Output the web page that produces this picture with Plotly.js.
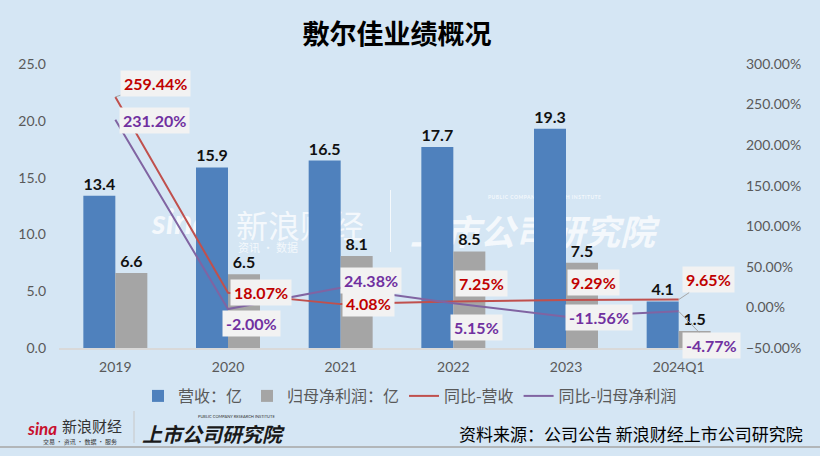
<!DOCTYPE html>
<html>
<head>
<meta charset="utf-8">
<script src="https://cdn.plot.ly/plotly-3.0.1.min.js"></script>
<style>
  html, body { margin: 0; padding: 0; background: #d5e6f4; }
  #wrap { position: relative; width: 820px; height: 456px; }
  #chart { position: absolute; left: 0; top: 0; width: 820px; height: 456px; z-index: 1; }
  #wm { position: absolute; left: 0; top: 0; width: 820px; height: 456px; z-index: 0; color: rgba(255,255,255,0.75); }
  #wm div { position: absolute; white-space: nowrap; line-height: 1; }
</style>
</head>
<body>
<div id="wrap">
  <div id="wm">
    <div style="left:152px; top:200px; font: italic bold 34px Lato, sans-serif;">sina</div>
    <div style="left:236px; top:201px; font: 32px 'Noto Sans CJK SC', sans-serif;">新浪财经</div>
    <div style="left:238px; top:239px; font: 11px 'Noto Sans CJK SC', sans-serif;">资讯 · 数据</div>
    <div style="left:390px; top:190px; width:1px; height:62px; background: rgba(255,255,255,0.75);"></div>
    <div style="left:488px; top:194px; font: bold 5px Lato, sans-serif; letter-spacing: 0.5px;">PUBLIC COMPANY RESEARCH INSTITUTE</div>
    <div style="left:410px; top:204px; font: italic bold 35px 'Noto Sans CJK SC', sans-serif;">上市公司研究院</div>
  </div>
  <div id="chart"></div>
</div>
<script>
// ---------- data ----------
const categories = ['2019', '2020', '2021', '2022', '2023', '2024Q1'];
const revenue = [13.4, 15.9, 16.5, 17.7, 19.3, 4.1];          // 营收：亿
const netProfit = [6.6, 6.5, 8.1, 8.5, 7.5, 1.5];             // 归母净利润：亿
const revenueYoY = [259.44, 18.07, 4.08, 7.25, 9.29, 9.65];   // 同比-营收 (%)
const profitYoY = [231.20, -2.00, 24.38, 5.15, -11.56, -4.77]; // 同比-归母净利润 (%)
const leftTicks = [0, 5, 10, 15, 20, 25];
const rightTicks = [-50, 0, 50, 100, 150, 200, 250, 300];

// ---------- styling ----------
const NUM_FONT = "Lato, 'Noto Sans CJK SC', sans-serif";
const CJK_FONT = "'Noto Sans CJK SC', 'Noto Sans', sans-serif";
const RED_TXT = '#c00000', PURPLE_TXT = '#7030a0';
// label offsets in pixels [dx, dy(down positive)], and whether a leader line is drawn
const revLabelOff = [[40, -13, true], [33, 0, false], [28, -1, false], [28, -18, false], [27, -17, false], [30, -20, true]];
const proLabelOff = [[39, 1, false], [23, 14, false], [30, -7, false], [23, 24, false], [33, 1, false], [33, 34, true]];

const M = { l: 59, r: 85, t: 64, b: 108 };
const PW = 820 - M.l - M.r, PH = 456 - M.t - M.b;
const px = x => (x - M.l) / PW;
const py = y => (456 - M.b - y) / PH;

const traces = [
  {
    type: 'bar', name: '营收：亿', x: categories, y: revenue, yaxis: 'y',
    marker: { color: '#4f81bd' },
    texttemplate: '%{y:.1f}', textposition: 'outside', cliponaxis: false,
    textfont: { family: NUM_FONT, size: 16, color: '#111111', weight: 'bold' },
    hoverinfo: 'skip'
  },
  {
    type: 'bar', name: '归母净利润：亿', x: categories, y: netProfit, yaxis: 'y',
    marker: { color: '#a5a5a5' },
    texttemplate: '%{y:.1f}', textposition: 'outside', cliponaxis: false,
    textfont: { family: NUM_FONT, size: 16, color: '#111111', weight: 'bold' },
    hoverinfo: 'skip'
  },
  {
    type: 'scatter', mode: 'lines', name: '同比-营收', x: categories,
    y: revenueYoY.map(v => v / 100), yaxis: 'y2',
    line: { color: '#c0504d', width: 2 }, hoverinfo: 'skip'
  },
  {
    type: 'scatter', mode: 'lines', name: '同比-归母净利润', x: categories,
    y: profitYoY.map(v => v / 100), yaxis: 'y2',
    line: { color: '#8064a2', width: 2 }, hoverinfo: 'skip'
  }
];

function pctLabel(idx, val, off, color) {
  const a = {
    xref: 'x', yref: 'y2', x: idx, y: val / 100,
    text: val.toFixed(2) + '%',
    font: { family: NUM_FONT, size: 16, color: color, weight: 'bold' },
    bgcolor: '#f2f2f2', borderpad: 3
  };
  if (off[2]) {
    Object.assign(a, { showarrow: true, ax: off[0], ay: off[1], arrowhead: 0, arrowwidth: 1, arrowcolor: '#a6a6a6', standoff: 0 });
  } else {
    Object.assign(a, { showarrow: false, xshift: off[0], yshift: -off[1], xanchor: 'center', yanchor: 'middle' });
  }
  return a;
}

const annotations = [];
categories.forEach((c, i) => {
  annotations.push(pctLabel(i, revenueYoY[i], revLabelOff[i], RED_TXT));
  annotations.push(pctLabel(i, profitYoY[i], proLabelOff[i], PURPLE_TXT));
});

function deco(x, y, text, font, anchor) {
  return { xref: 'paper', yref: 'paper', x: px(x), y: py(y), xanchor: anchor || 'center', yanchor: 'middle',
           text: text, showarrow: false, font: font };
}

// bottom branding
annotations.push(
  deco(805, 433, '资料来源：公司公告 新浪财经上市公司研究院', { family: CJK_FONT, size: 17, color: '#000000' }, 'right'),
  deco(42, 428, '<i><b>sina</b></i>', { family: NUM_FONT, size: 17, color: '#c8102e' }),
  deco(92, 425, '新浪财经', { family: CJK_FONT, size: 15, color: '#333333' }),
  deco(80, 441, '交易 · 资讯 · 数据 · 服务', { family: CJK_FONT, size: 6, color: '#333333' }),
  deco(236, 416, 'PUBLIC COMPANY RESEARCH INSTITUTE', { family: NUM_FONT, size: 4, color: '#333333' }),
  deco(213, 433, '<b><i>上市公司研究院</i></b>', { family: CJK_FONT, size: 20, color: '#1a1a1a' })
);

const shapes = [
  { type: 'line', xref: 'paper', yref: 'paper', x0: px(0), x1: px(820), y0: py(447), y1: py(447), line: { color: '#a6a6a6', width: 1.5 } },
  { type: 'line', xref: 'paper', yref: 'paper', x0: px(134), x1: px(134), y0: py(411), y1: py(443), line: { color: '#c8c8c8', width: 1 } }
];

const layout = {
  width: 820, height: 456,
  margin: M,
  paper_bgcolor: 'rgba(0,0,0,0)', plot_bgcolor: 'rgba(0,0,0,0)',
  title: { text: '<b>敷尔佳业绩概况</b>', x: 0.5, xref: 'paper', xanchor: 'center', y: 1 - 35 / 456, yanchor: 'middle',
           font: { family: CJK_FONT, size: 27, color: '#000000' } },
  barmode: 'group', bargap: 0.432, bargroupgap: 0,
  showlegend: true,
  legend: { orientation: 'h', x: px(410), xanchor: 'center', y: py(396), yanchor: 'middle',
            font: { family: CJK_FONT, size: 16, color: '#595959' }, bgcolor: 'rgba(0,0,0,0)', itemwidth: 30, traceorder: 'normal' },
  xaxis: {
    type: 'category', range: [-0.5, categories.length - 0.5], autorange: false,
    showgrid: false, zeroline: false,
    showline: true, linecolor: '#d9d9d9', linewidth: 1.5,
    ticks: '', ticklabelstandoff: 6,
    tickfont: { family: NUM_FONT, size: 14, color: '#595959' }
  },
  yaxis: {
    range: [0, 25], tickvals: leftTicks, tickformat: '.1f',
    showgrid: false, zeroline: false, showline: false, ticks: '', ticklabelstandoff: 12,
    tickfont: { family: NUM_FONT, size: 14, color: '#595959' }
  },
  yaxis2: {
    overlaying: 'y', side: 'right', range: [-0.5, 3.0],
    tickvals: rightTicks.map(v => v / 100), tickformat: '.2%',
    showgrid: false, zeroline: false, showline: false, ticks: '', ticklabelstandoff: 10,
    tickfont: { family: NUM_FONT, size: 14, color: '#595959' }
  },
  annotations: annotations,
  shapes: shapes,
  hovermode: false
};

Plotly.newPlot('chart', traces, layout, { displayModeBar: false, staticPlot: true });
</script>
</body>
</html>
